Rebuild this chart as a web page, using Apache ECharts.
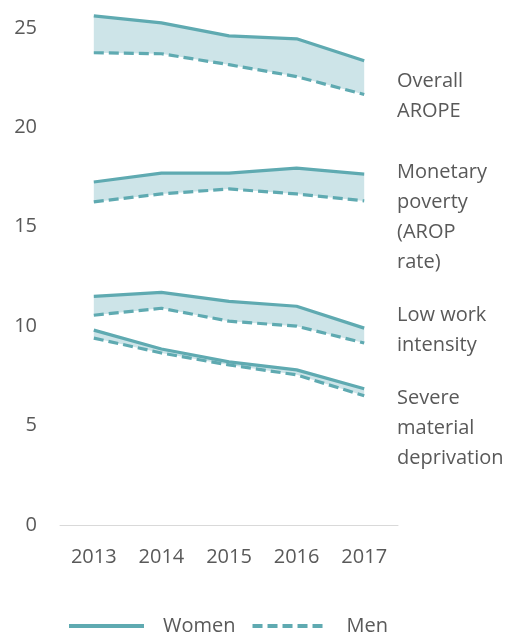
<!DOCTYPE html>
<html>
<head>
<meta charset="utf-8">
<script src="https://cdn.jsdelivr.net/npm/echarts@6/dist/echarts.min.js"></script>
<style>html,body{margin:0;padding:0;background:#fff}#c{width:510px;height:632px}</style>
</head>
<body>
<div id="c"></div>
<script>
var years = ['2013', '2014', '2015', '2016', '2017'];
var yTicks = [0, 5, 10, 15, 20, 25];

var overallWomen = [25.6, 25.25, 24.6, 24.45, 23.35];
var overallMen = [23.75, 23.7, 23.15, 22.55, 21.65];
var monetaryWomen = [17.25, 17.7, 17.7, 17.95, 17.65];
var monetaryMen = [16.25, 16.65, 16.9, 16.65, 16.3];
var lowWorkWomen = [11.5, 11.7, 11.25, 11.0, 9.9];
var lowWorkMen = [10.55, 10.9, 10.25, 10.0, 9.15];
var severeWomen = [9.8, 8.85, 8.2, 7.8, 6.85];
var severeMen = [9.4, 8.65, 8.05, 7.55, 6.5];

var groupLabels = [
  {text: 'Overall\nAROPE', top: 66},
  {text: 'Monetary\npoverty\n(AROP\nrate)', top: 157},
  {text: 'Low work\nintensity', top: 300},
  {text: 'Severe\nmaterial\ndeprivation', top: 383}
];

var pairs = [
  [overallWomen, overallMen],
  [monetaryWomen, monetaryMen],
  [lowWorkWomen, lowWorkMen],
  [severeWomen, severeMen]
];

var LINE = '#5FAAB1';
var FILL = '#CDE4E8';
var FONT = '"Open Sans", sans-serif';

var series = [];
pairs.forEach(function (p, i) {
  var w = p[0], m = p[1];
  var diff = w.map(function (v, k) { return +(v - m[k]).toFixed(3); });
  series.push({
    name: 'base' + i, type: 'line', stack: 'pair' + i, data: m,
    symbol: 'none', silent: true, lineStyle: {opacity: 0}, z: 1
  });
  series.push({
    name: 'fill' + i, type: 'line', stack: 'pair' + i, data: diff,
    symbol: 'none', silent: true, lineStyle: {opacity: 0},
    areaStyle: {color: FILL, opacity: 1}, z: 1
  });
});
pairs.forEach(function (p) {
  series.push({
    name: 'Women', type: 'line', data: p[0], symbol: 'none', z: 3,
    lineStyle: {color: LINE, width: 3.2, type: 'solid'}, itemStyle: {color: LINE}
  });
  series.push({
    name: 'Men', type: 'line', data: p[1], symbol: 'none', z: 3,
    lineStyle: {color: LINE, width: 3.2, type: [10, 5]}, itemStyle: {color: LINE}
  });
});

var chart = echarts.init(document.getElementById('c'), null, {renderer: 'canvas'});
chart.setOption({
  animation: false,
  backgroundColor: '#fff',
  grid: {left: 60, right: 112, top: 8, bottom: 107, containLabel: false},
  xAxis: {
    type: 'category', data: years, boundaryGap: true,
    axisLine: {lineStyle: {color: '#D9D9D9', width: 1}},
    axisTick: {show: false},
    axisLabel: {color: '#595959', fontFamily: FONT, fontSize: 20, margin: 22}
  },
  yAxis: {
    type: 'value', min: yTicks[0], max: 26, interval: 5,
    axisLine: {show: false}, axisTick: {show: false},
    splitLine: {show: false},
    axisLabel: {
      color: '#595959', fontFamily: FONT, fontSize: 20, margin: 23, showMaxLabel: false,
      formatter: function (v) { return yTicks.indexOf(v) >= 0 ? String(v) : ''; }
    }
  },
  legend: {
    data: ['Women', 'Men'],
    left: 62, bottom: -9,
    itemWidth: 75, itemHeight: 12, itemGap: 15,
    selectedMode: false,
    itemStyle: {opacity: 0, borderWidth: 0},
    lineStyle: {width: 4},
    textStyle: {color: '#595959', fontFamily: FONT, fontSize: 20, padding: [0, 0, 0, 14]}
  },
  graphic: groupLabels.map(function (g) {
    return {
      type: 'text', left: 397, top: g.top,
      style: {text: g.text, fill: '#595959', font: '20px ' + FONT, lineHeight: 30}
    };
  }),
  series: series
});
</script>
</body>
</html>
